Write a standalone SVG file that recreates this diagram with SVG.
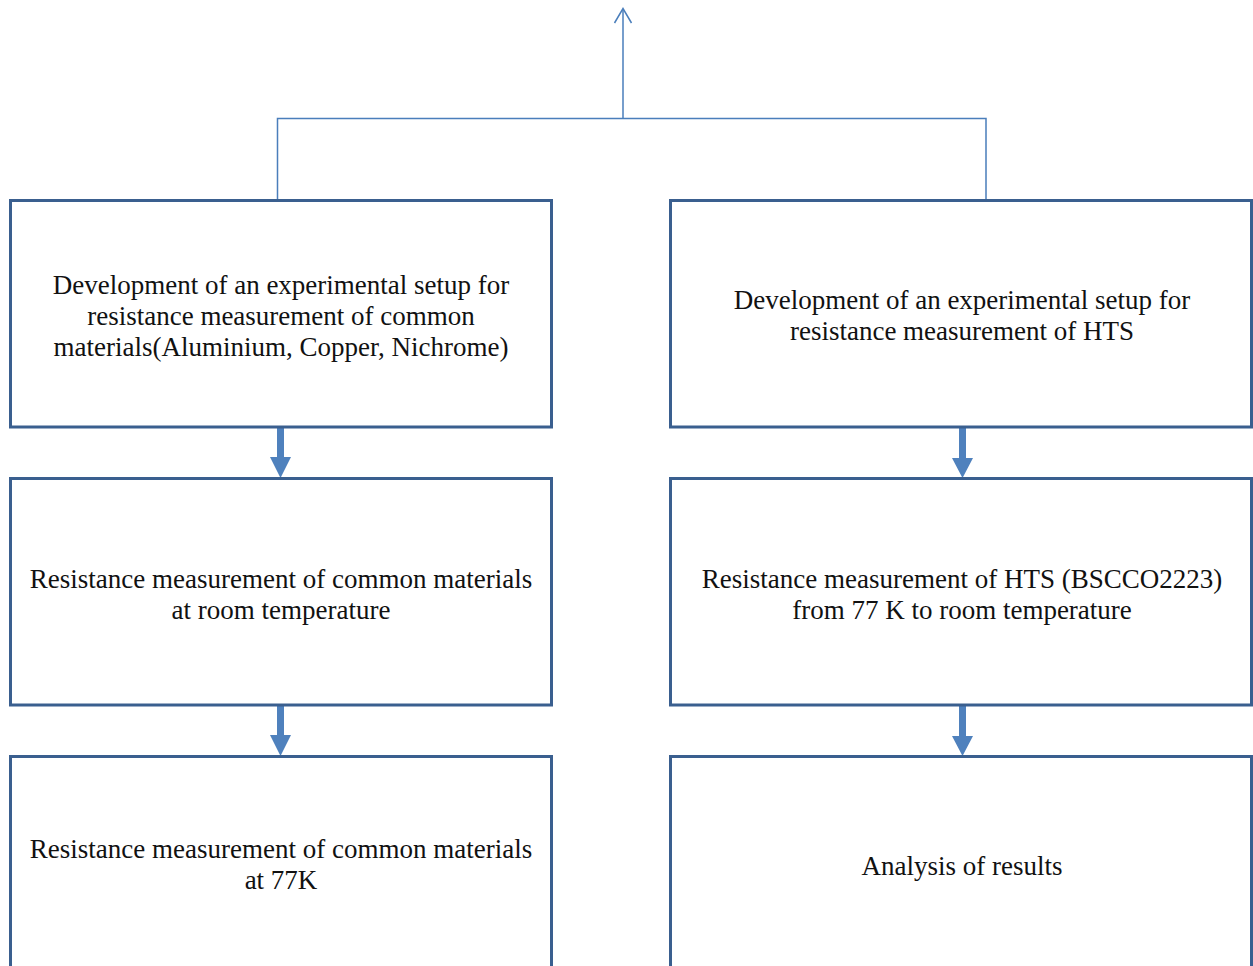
<svg xmlns="http://www.w3.org/2000/svg" width="1253" height="966" viewBox="0 0 1253 966">
<defs>
<style>
.box{fill:#ffffff;stroke:#3a5f8f;stroke-width:3}
.lbl{font-family:"Liberation Serif","Times New Roman",serif;font-size:27px;fill:#111111;text-anchor:middle}
.conn{fill:none;stroke:#4a7ebb;stroke-width:1.5}
.fat{fill:#4f81bd;stroke:none}
</style>
</defs>
<rect width="1253" height="966" fill="#ffffff"/>
<g id="connectors">
<polyline class="conn" points="277.5,200 277.5,118.5 986,118.5 986,200"/>
<line class="conn" x1="623" y1="118.5" x2="623" y2="9"/>
<polyline class="conn" points="614.5,23 623,8.5 631.5,23"/>
<polygon class="fat" points="277,428 284,428 284,457 291,457 280.5,478 270,457 277,457"/>
<polygon class="fat" points="277,706 284,706 284,735 291,735 280.5,756 270,735 277,735"/>
<polygon class="fat" points="959,428 966,428 966,458 973,458 962.5,478 952,458 959,458"/>
<polygon class="fat" points="959,706 966,706 966,736 973,736 962.5,756 952,736 959,736"/>
</g>
<g id="node-l1">
<rect class="box" x="10.5" y="200.5" width="541" height="226.5"/>
<text class="lbl" x="281" y="293.5">Development of an experimental setup for</text>
<text class="lbl" x="281" y="324.5">resistance measurement of common</text>
<text class="lbl" x="281" y="355.5">materials(Aluminium, Copper, Nichrome)</text>
</g>
<g id="node-l2">
<rect class="box" x="10.5" y="478.5" width="541" height="226.5"/>
<text class="lbl" x="281" y="587.5">Resistance measurement of common materials</text>
<text class="lbl" x="281" y="618.5">at room temperature</text>
</g>
<g id="node-l3">
<rect class="box" x="10.5" y="756.5" width="541" height="226.5"/>
<text class="lbl" x="281" y="857.5">Resistance measurement of common materials</text>
<text class="lbl" x="281" y="888.5">at 77K</text>
</g>
<g id="node-r1">
<rect class="box" x="670.5" y="200.5" width="581" height="226.5"/>
<text class="lbl" x="962" y="308.5">Development of an experimental setup for</text>
<text class="lbl" x="962" y="339.5">resistance measurement of HTS</text>
</g>
<g id="node-r2">
<rect class="box" x="670.5" y="478.5" width="581" height="226.5"/>
<text class="lbl" x="962" y="587.5">Resistance measurement of HTS (BSCCO2223)</text>
<text class="lbl" x="962" y="618.5">from 77 K to room temperature</text>
</g>
<g id="node-r3">
<rect class="box" x="670.5" y="756.5" width="581" height="226.5"/>
<text class="lbl" x="962" y="874.5">Analysis of results</text>
</g>
</svg>
